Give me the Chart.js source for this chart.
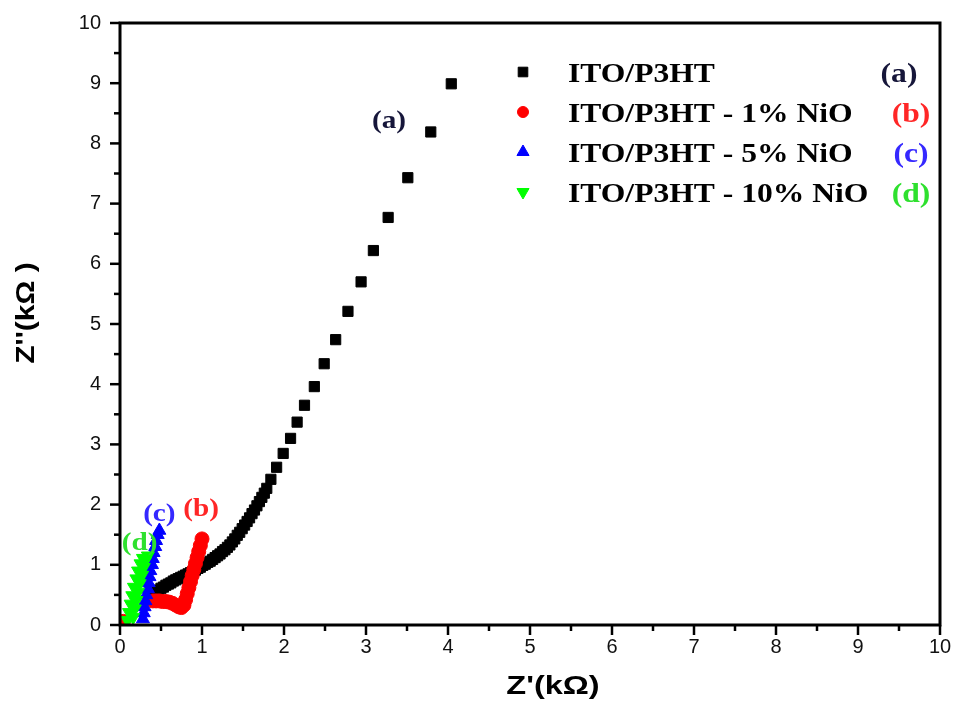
<!DOCTYPE html>
<html>
<head>
<meta charset="utf-8">
<script src="https://cdn.jsdelivr.net/npm/chart.js@4.4.1/dist/chart.umd.min.js"></script>
<style>
  html, body { margin: 0; padding: 0; background: #fff; }
  #wrap { width: 957px; height: 703px; }
</style>
</head>
<body>
<div id="wrap"><canvas id="nyquist" width="957" height="703"></canvas></div>
<script>
// Nyquist plot of the ITO/P3HT films - Z' vs Z'' in kOhm
const seriesNames = ['ITO/P3HT', 'ITO/P3HT - 1% NiO', 'ITO/P3HT - 5% NiO', 'ITO/P3HT - 10% NiO'];
const seriesTags = ['(a)', '(b)', '(c)', '(d)'];

// (a) ITO/P3HT
const zRe_a = [0.41, 0.44, 0.47, 0.50, 0.53, 0.56, 0.59, 0.62, 0.65, 0.68, 0.71, 0.74, 0.77, 0.80,
               0.83, 0.86, 0.89, 0.92, 0.95, 0.98, 1.01, 1.04, 1.07, 1.10, 1.13, 1.16, 1.19, 1.22,
               1.25, 1.28, 1.31, 1.34, 1.37, 1.40, 1.43, 1.46, 1.49, 1.52, 1.55, 1.58, 1.61, 1.64,
               1.67, 1.70, 1.73, 1.76, 1.79, 1.84, 1.91, 1.99, 2.08, 2.16, 2.25, 2.37, 2.49, 2.63,
               2.78, 2.94, 3.09, 3.27, 3.51, 3.79, 4.04];
const zIm_a = [0.53, 0.56, 0.58, 0.61, 0.63, 0.66, 0.68, 0.70, 0.73, 0.75, 0.77, 0.79, 0.81, 0.83,
               0.85, 0.87, 0.89, 0.91, 0.94, 0.96, 0.99, 1.01, 1.04, 1.06, 1.09, 1.12, 1.15, 1.18,
               1.22, 1.25, 1.29, 1.33, 1.38, 1.43, 1.49, 1.54, 1.60, 1.66, 1.72, 1.78, 1.85, 1.91,
               1.98, 2.05, 2.12, 2.19, 2.27, 2.42, 2.62, 2.85, 3.10, 3.37, 3.65, 3.96, 4.34, 4.74,
               5.21, 5.70, 6.22, 6.77, 7.43, 8.19, 8.99];

// (b) 1% NiO
const zRe_b = [0.04, 0.40, 0.44, 0.48, 0.52, 0.56, 0.60, 0.64, 0.68, 0.72, 0.75, 0.78, 0.80, 0.82,
               0.84, 0.86, 0.88, 0.90, 0.92, 0.94, 0.96, 0.98, 1.00];
const zIm_b = [0.06, 0.40, 0.40, 0.40, 0.39, 0.39, 0.38, 0.36, 0.33, 0.30, 0.29, 0.33, 0.42, 0.52,
               0.62, 0.72, 0.82, 0.92, 1.02, 1.12, 1.22, 1.32, 1.43];

// (c) 5% NiO
const zRe_c = [0.28, 0.29, 0.30, 0.31, 0.32, 0.34, 0.35, 0.36, 0.37, 0.39, 0.40, 0.41, 0.43, 0.44, 0.46, 0.48];
const zIm_c = [0.10, 0.20, 0.30, 0.40, 0.50, 0.60, 0.70, 0.80, 0.90, 1.00, 1.10, 1.20, 1.30, 1.40, 1.50, 1.57];

// (d) 10% NiO
const zRe_d = [0.09, 0.16, 0.11, 0.18, 0.13, 0.20, 0.15, 0.22, 0.17, 0.24, 0.20, 0.27, 0.22, 0.29, 0.25, 0.31, 0.28, 0.34];
const zIm_d = [0.08, 0.13, 0.21, 0.27, 0.35, 0.41, 0.49, 0.55, 0.63, 0.69, 0.77, 0.83, 0.90, 0.96, 1.02, 1.07, 1.11, 1.15];

const axisTicks = [0, 1, 2, 3, 4, 5, 6, 7, 8, 9, 10];

const toPoints = (xs, ys) => xs.map((x, i) => ({ x: x, y: ys[i] }));

const markerStyles = [
    { pointStyle: 'rect', radius: 7.2, rotation: 0, color: '#000000' },
    { pointStyle: 'circle', radius: 7, rotation: 0, color: '#ff0000' },
    { pointStyle: 'triangle', radius: 7.5, rotation: 0, color: '#0000ff' },
    { pointStyle: 'triangle', radius: 7.5, rotation: 180, color: '#00ff00' }
];
const legendRadius = [6.8, 5.5, 7, 7];
const tagColors = ['#16163a', '#ff2626', '#3528ff', '#2ee02e'];

const serif = '"Liberation Serif", "Times New Roman", serif';
const sans = '"Liberation Sans", Arial, sans-serif';

// frame + major/minor ticks (axis decoration, drawn on top of the markers)
const framePlugin = {
    id: 'frame',
    afterDatasetsDraw(chart) {
        const { ctx, chartArea: a, scales: { x, y } } = chart;
        ctx.save();
        ctx.strokeStyle = '#000';
        ctx.lineWidth = 3;
        ctx.strokeRect(a.left, a.top, a.right - a.left, a.bottom - a.top);
        ctx.lineWidth = 2.5;
        for (let v = 0; v <= 10; v += 0.5) {
            const len = (v % 1 === 0) ? 10 : 6;
            const px = x.getPixelForValue(v);
            ctx.beginPath(); ctx.moveTo(px, a.bottom); ctx.lineTo(px, a.bottom + len); ctx.stroke();
            const py = y.getPixelForValue(v);
            ctx.beginPath(); ctx.moveTo(a.left, py); ctx.lineTo(a.left - len, py); ctx.stroke();
        }
        ctx.restore();
    }
};

function stretchedText(ctx, text, x, y, align, color, sx, baseline) {
    ctx.save();
    ctx.translate(x, y);
    ctx.scale(sx || 1.17, 1);
    ctx.textAlign = align;
    ctx.textBaseline = baseline || 'alphabetic';
    ctx.fillStyle = color;
    ctx.fillText(text, 0, 0);
    ctx.restore();
}

// legend in the upper right + tags next to each curve + axis titles
const tagX = [3.28, 0.99, 0.48, 0.24];
const tagY = [8.25, 1.81, 1.73, 1.24];

const legendPlugin = {
    id: 'customLegend',
    afterDraw(chart) {
        const { ctx, scales: { x, y } } = chart;
        ctx.save();
        ctx.font = 'bold 27px ' + serif;
        seriesNames.forEach((name, i) => {
            const rowY = 72 + i * 40;
            const m = markerStyles[i];
            ctx.fillStyle = m.color;
            ctx.strokeStyle = m.color;
            ctx.lineWidth = 1;
            Chart.helpers.drawPoint(ctx, { pointStyle: m.pointStyle, radius: legendRadius[i], rotation: m.rotation, borderWidth: 1 }, 523, rowY);
            stretchedText(ctx, name, 568, rowY + 10, 'left', '#000');
            stretchedText(ctx, seriesTags[i], i === 0 ? 899 : 911, rowY + 10, 'center', tagColors[i]);
        });
        ctx.font = 'bold 25px ' + serif;
        seriesTags.forEach((tag, i) => {
            stretchedText(ctx, tag, x.getPixelForValue(tagX[i]), y.getPixelForValue(tagY[i]), 'center', tagColors[i]);
        });

        // axis titles
        ctx.font = 'bold 26px ' + sans;
        stretchedText(ctx, "Z'(kΩ)", 553, 694, 'center', '#000', 1.25);
        ctx.save();
        ctx.translate(27, 313);
        ctx.rotate(-Math.PI / 2);
        stretchedText(ctx, "Z''(kΩ )", 0, 0, 'center', '#000', 1.15, 'middle');
        ctx.restore();
        ctx.restore();
    }
};

const datasets = [
    [zRe_a, zIm_a], [zRe_b, zIm_b], [zRe_c, zIm_c], [zRe_d, zIm_d]
].map(([xs, ys], i) => ({
    label: seriesNames[i],
    data: toPoints(xs, ys),
    order: 4 - i,
    showLine: false,
    pointStyle: markerStyles[i].pointStyle,
    pointRadius: markerStyles[i].radius,
    pointRotation: markerStyles[i].rotation,
    pointBackgroundColor: markerStyles[i].color,
    pointBorderColor: markerStyles[i].color,
    pointBorderWidth: 1
}));

const canvas = document.getElementById('nyquist');
new Chart(canvas.getContext('2d'), {
    type: 'scatter',
    data: { datasets: datasets },
    options: {
        responsive: false,
        animation: false,
        layout: { padding: { top: 23, right: 17, left: 0, bottom: 0 } },
        plugins: {
            legend: { display: false },
            tooltip: { enabled: false }
        },
        scales: {
            x: {
                type: 'linear',
                min: 0,
                max: 10,
                afterFit: s => { s.height = 78; s.paddingLeft = 0; s.paddingRight = 0; },
                afterBuildTicks: s => { s.ticks = axisTicks.map(v => ({ value: v })); },
                grid: { display: false, drawTicks: false },
                border: { display: false },
                ticks: { padding: 10, maxRotation: 0, color: '#111', font: { family: sans, size: 20 } },
                title: { display: false }
            },
            y: {
                type: 'linear',
                min: 0,
                max: 10,
                afterFit: s => { s.width = 120; s.paddingTop = 0; s.paddingBottom = 0; },
                afterBuildTicks: s => { s.ticks = axisTicks.map(v => ({ value: v })); },
                grid: { display: false, drawTicks: false },
                border: { display: false },
                ticks: { padding: 19, color: '#111', font: { family: sans, size: 20 } },
                title: { display: false }
            }
        }
    },
    plugins: [framePlugin, legendPlugin]
});
</script>
</body>
</html>
